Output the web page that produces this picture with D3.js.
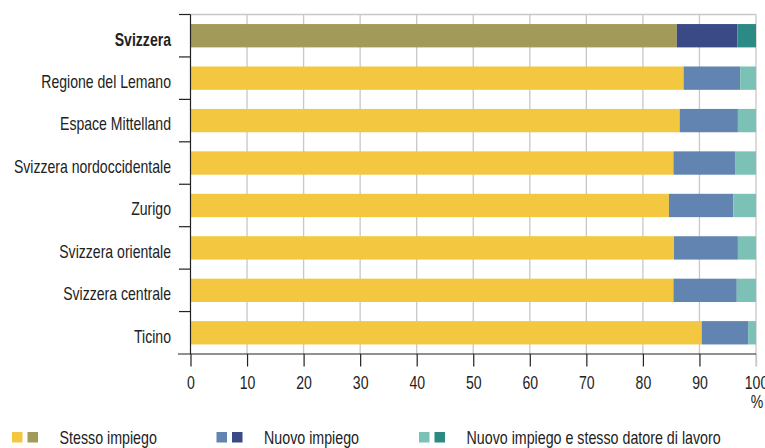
<!DOCTYPE html>
<html><head><meta charset="utf-8">
<script src="https://cdn.jsdelivr.net/npm/d3@7"></script>
<style>
body{margin:0;background:#fff;}
text{font-family:"Liberation Sans",Arial,sans-serif;fill:#222;}
</style></head>
<body><svg id="chart" width="765" height="448"></svg>
<script>
const categories = ["Svizzera","Regione del Lemano","Espace Mittelland","Svizzera nordoccidentale","Zurigo","Svizzera orientale","Svizzera centrale","Ticino"];
const stessoImpiego = [86.0, 87.2, 86.5, 85.4, 84.6, 85.5, 85.4, 90.4];
const nuovoImpiego = [10.7, 10.0, 10.3, 10.9, 11.4, 11.3, 11.2, 8.2];
const nuovoStessoDatore = [3.3, 2.8, 3.2, 3.7, 4.0, 3.2, 3.4, 1.4];
const seriesNames = ["Stesso impiego","Nuovo impiego","Nuovo impiego e stesso datore di lavoro"];
const xTicks = [0,10,20,30,40,50,60,70,80,90,100];
const colorsLight = ["#F3C840","#6184B0","#7CC1B6"];
const colorsDark = ["#A29A58","#3A4A87","#2C8A84"];

// condensed look: shrink glyphs horizontally via textLength
function condense(sel, f){
  sel.each(function(){
    const w = this.getComputedTextLength();
    d3.select(this).attr("textLength", w*f).attr("lengthAdjust","spacingAndGlyphs");
  });
}

const svg = d3.select("#chart");
const pL = 190.5, pR = 756, pT = 14.5, pB = 354;
const x = d3.scaleLinear().domain([0,100]).range([pL,pR]);
const y = d3.scaleBand().domain(categories).range([pT,pB]).paddingInner(0.45).paddingOuter(0.225);

// gridlines
svg.append("g").selectAll("line").data(xTicks.filter(d=>d>0)).join("line")
  .attr("x1",d=>x(d)).attr("x2",d=>x(d)).attr("y1",pT).attr("y2",d=>d===100?pB+12.5:pB)
  .attr("stroke","#c8c8c8").attr("stroke-width",1.3);
svg.append("line").attr("x1",pL).attr("x2",pR).attr("y1",pT).attr("y2",pT)
  .attr("stroke","#c8c8c8").attr("stroke-width",1.3);

// bars
const rows = categories.map((c,i)=>({c,i,vals:[stessoImpiego[i],nuovoImpiego[i],nuovoStessoDatore[i]]}));
const g = svg.append("g");
rows.forEach(r=>{
  let acc = 0;
  r.vals.forEach((v,k)=>{
    const pal = r.i===0 ? colorsDark : colorsLight;
    g.append("rect").attr("x",x(acc)).attr("width",x(acc+v)-x(acc))
      .attr("y",y(r.c)).attr("height",y.bandwidth()).attr("fill",pal[k]);
    acc += v;
  });
});

// left axis
const yAx = svg.append("g");
yAx.append("line").attr("x1",pL).attr("x2",pL).attr("y1",pT).attr("y2",pB).attr("stroke","#222").attr("stroke-width",1.2);
const bounds = d3.range(categories.length+1).map(i=>pT + i*y.step());
yAx.selectAll("line.t").data(bounds.slice(0,-1)).join("line").attr("class","t")
  .attr("x1",179).attr("x2",pL).attr("y1",d=>d).attr("y2",d=>d).attr("stroke","#222").attr("stroke-width",1.2);
yAx.selectAll("text").data(categories).join("text")
  .attr("x",171).attr("y",d=>y(d)+y.bandwidth()/2+9.8)
  .attr("text-anchor","end").attr("font-size",18.5)
  .attr("font-weight",(d,i)=>i===0?"bold":"normal").text(d=>d)
  .call(condense,0.76);

// bottom axis
const xAxis = d3.axisBottom(x).tickValues(xTicks).tickSize(12.5).tickSizeOuter(0).tickFormat(d3.format("d"));
const xg = svg.append("g").attr("transform",`translate(0,${pB})`).call(xAxis);
xg.select(".domain").remove();
xg.append("line").attr("x1",178).attr("x2",pR).attr("stroke","#222").attr("stroke-width",1.2);
xg.selectAll(".tick line").attr("stroke",d=>d===100?"#c8c8c8":"#222").attr("stroke-width",d=>d===100?1.3:1.2);
xg.selectAll(".tick text").attr("font-size",19).attr("fill","#222").attr("y",35).attr("dy",0)
  .style("font-family",'"Liberation Sans",Arial,sans-serif')
  .call(condense,0.74);
svg.append("text").attr("x",x(100)+1).attr("y",408).attr("text-anchor","middle").attr("font-size",19).text("%")
  .call(condense,0.74);

// legend
const legX = [12,216.5,419];
seriesNames.forEach((s,k)=>{
  svg.append("rect").attr("x",legX[k]).attr("y",432).attr("width",10.5).attr("height",10.5).attr("fill",colorsLight[k]);
  svg.append("rect").attr("x",legX[k]+15.5).attr("y",432).attr("width",10.5).attr("height",10.5).attr("fill",colorsDark[k]);
  svg.append("text").attr("x",legX[k]+47.5).attr("y",443.5).attr("font-size",18.5).text(s)
    .call(condense,0.77);
});
</script></body></html>
